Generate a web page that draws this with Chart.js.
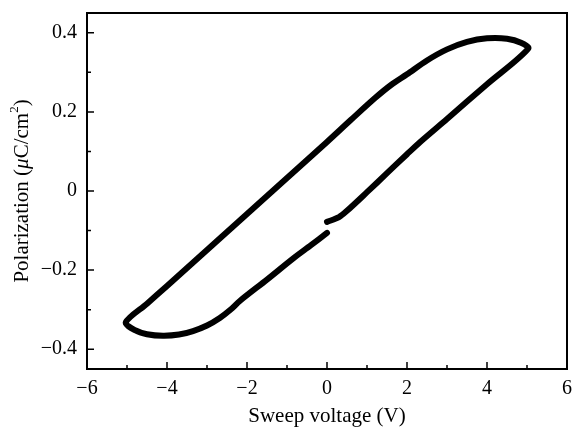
<!DOCTYPE html>
<html>
<head>
<meta charset="utf-8">
<script src="https://cdn.jsdelivr.net/npm/chart.js@4"></script>
<style>
  html, body { margin: 0; padding: 0; background: #fff; }
  #wrap { width: 573px; height: 430px; }
</style>
</head>
<body>
<div id="wrap"><canvas id="loopChart"></canvas></div>
<script>
// sweep from 0 V up to +5 V (lower right branch)
var upV = [0.0, 0.3, 0.5, 1.0, 1.5, 2.0, 2.33, 3.0, 4.0, 5.03];
var upP = [-0.078, -0.066, -0.05, -0.003, 0.045, 0.093, 0.124, 0.182, 0.27, 0.36];

// sweep back from +5 V down to -5 V (upper branch)
var downV = [4.85, 4.5, 4.0, 3.5, 3.0, 2.5, 2.0, 1.6, 1.2, 0.6, 0.0, -1.0, -2.0, -3.0, -4.0, -4.5, -5.03];
var downP = [0.375, 0.385, 0.386, 0.377, 0.358, 0.33, 0.295, 0.268, 0.235, 0.18, 0.124, 0.033, -0.058, -0.149, -0.24, -0.285, -0.332];

// return from -5 V to 0 V (lower left branch)
var backV = [-4.8, -4.5, -4.1, -3.7, -3.35, -3.0, -2.68, -2.4, -2.18, -1.5, -0.85, -0.4, 0.0];
var backP = [-0.352, -0.362, -0.366, -0.363, -0.354, -0.34, -0.321, -0.299, -0.278, -0.224, -0.171, -0.137, -0.106];

var xTicks = [-6, -4, -2, 0, 2, 4, 6];
var yTicks = [-0.4, -0.2, 0, 0.2, 0.4];

var loop = [];
[[upV, upP], [downV, downP], [backV, backP]].forEach(function(part) {
    part[0].forEach(function(v, i) {
        loop.push({ x: v, y: part[1][i] });
    });
});

function fmt(v) {
    var s = Math.abs(v) < 1e-9 ? '0' : String(Math.round(v * 10) / 10);
    return s.replace('-', '\u2212');
}

// frame round the plot area, inward ticks, and the y title with an italic mu
var framePlugin = {
    id: 'frame',
    afterDatasetsDraw: function(chart) {
        var ctx = chart.ctx;
        var a = chart.chartArea;
        var xs = chart.scales.x;
        var ys = chart.scales.y;
        ctx.save();
        ctx.strokeStyle = '#000';
        ctx.lineWidth = 2;
        ctx.strokeRect(a.left, a.top, a.right - a.left, a.bottom - a.top);
        ctx.lineWidth = 1.5;
        ctx.beginPath();
        for (var v = -5; v <= 5; v++) {
            var px = xs.getPixelForValue(v);
            var len = (v % 2 === 0) ? 7 : 4;
            ctx.moveTo(px, a.bottom);
            ctx.lineTo(px, a.bottom - len);
        }
        for (var k = -4; k <= 4; k++) {
            var py = ys.getPixelForValue(k / 10);
            var l = (k % 2 === 0) ? 7 : 4;
            ctx.moveTo(a.left, py);
            ctx.lineTo(a.left + l, py);
        }
        ctx.stroke();

        // y axis title
        var parts = [
            { t: 'Polarization (', f: '21px "Liberation Serif"', dy: 0 },
            { t: '\u03bc', f: 'italic 21px "Liberation Serif"', dy: 0 },
            { t: 'C/cm', f: '21px "Liberation Serif"', dy: 0 },
            { t: '2', f: '13px "Liberation Serif"', dy: -7 },
            { t: ')', f: '21px "Liberation Serif"', dy: 0 }
        ];
        var total = 0;
        parts.forEach(function(p) { ctx.font = p.f; p.w = ctx.measureText(p.t).width; total += p.w; });
        ctx.translate(22, (a.top + a.bottom) / 2);
        ctx.rotate(-Math.PI / 2);
        ctx.fillStyle = '#000';
        ctx.textBaseline = 'middle';
        var x0 = -total / 2;
        parts.forEach(function(p) {
            ctx.font = p.f;
            ctx.fillText(p.t, x0, p.dy);
            x0 += p.w;
        });
        ctx.restore();
    }
};

var ctx = document.getElementById('loopChart').getContext('2d');
var chart = new Chart(ctx, {
    type: 'scatter',
    data: {
        datasets: [{
            data: loop,
            showLine: true,
            borderColor: '#000',
            borderWidth: 6,
            pointRadius: 0,
            tension: 0.3,
            borderCapStyle: 'round',
            borderJoinStyle: 'round'
        }]
    },
    options: {
        responsive: true,
        maintainAspectRatio: false,
        animation: false,
        layout: { padding: { top: 13, right: 6, left: 0, bottom: 0 } },
        plugins: {
            legend: { display: false },
            tooltip: { enabled: false }
        },
        scales: {
            x: {
                type: 'linear',
                min: -6,
                max: 6,
                grid: { display: false, drawTicks: false },
                border: { display: false },
                afterBuildTicks: function(scale) {
                    scale.ticks = xTicks.map(function(v) { return { value: v }; });
                },
                afterFit: function(scale) {
                    scale.height = 61;
                    scale.paddingLeft = 0;
                    scale.paddingRight = 0;
                },
                ticks: {
                    color: '#000',
                    padding: 8,
                    maxRotation: 0,
                    font: { family: 'Liberation Serif', size: 20 },
                    callback: function(v) { return fmt(v); }
                },
                title: {
                    display: true,
                    text: 'Sweep voltage (V)',
                    color: '#000',
                    font: { family: 'Liberation Serif', size: 21 },
                    padding: { top: 0, bottom: 1 }
                }
            },
            y: {
                type: 'linear',
                min: -0.45,
                max: 0.45,
                grid: { display: false, drawTicks: false },
                border: { display: false },
                afterBuildTicks: function(scale) {
                    scale.ticks = yTicks.map(function(v) { return { value: v }; });
                },
                afterFit: function(scale) {
                    scale.width = 87;
                    scale.paddingTop = 0;
                    scale.paddingBottom = 0;
                },
                ticks: {
                    color: '#000',
                    padding: 10,
                    font: { family: 'Liberation Serif', size: 20 },
                    callback: function(v) { return fmt(v); }
                },
                title: { display: false }
            }
        }
    },
    plugins: [framePlugin]
});
</script>
</body>
</html>
